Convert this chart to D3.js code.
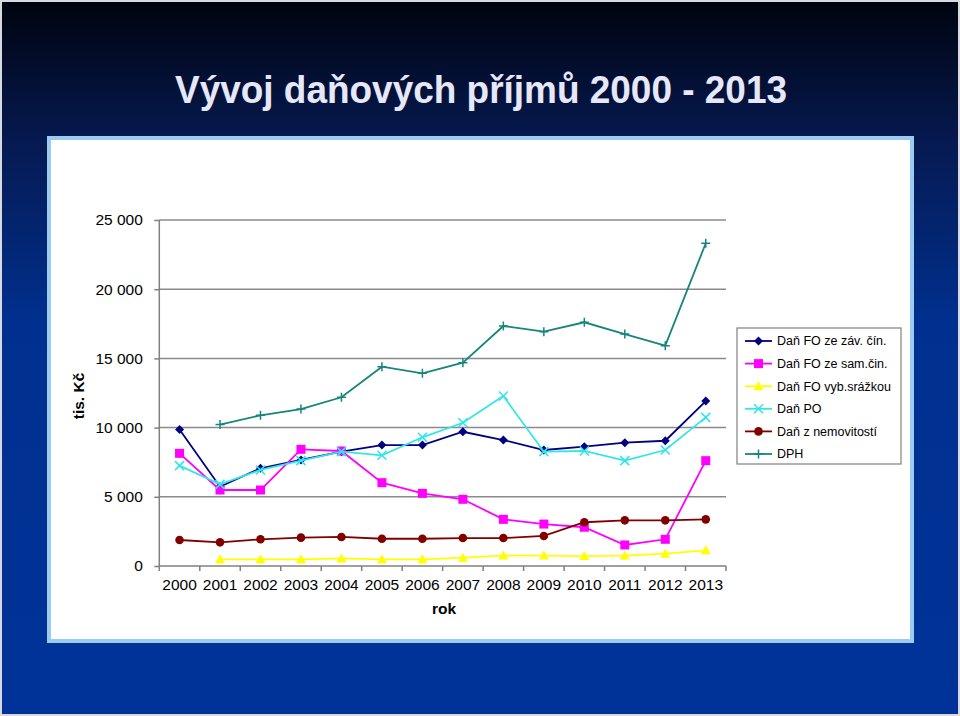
<!DOCTYPE html>
<html><head><meta charset="utf-8">
<script src="https://cdn.jsdelivr.net/npm/d3@7"></script>
<style>html,body{margin:0;padding:0;background:#000}svg{display:block}</style>
</head><body>
<script>
const years = ["2000","2001","2002","2003","2004","2005","2006","2007","2008","2009","2010","2011","2012","2013"];
const seriesNames = ["Daň FO ze záv. čín.","Daň FO ze sam.čin.","Daň FO vyb.srážkou","Daň PO","Daň z nemovitostí","DPH"];
const foZav   = [9870,5730,7060,7660,8260,8740,8740,9700,9100,8380,8620,8910,9050,11920];
const foSam   = [8140,5490,5490,8430,8310,6020,5250,4820,3370,3030,2800,1520,1930,7610];
const foSraz  = [null,480,480,480,550,480,480,600,750,750,720,750,890,1130];
const po      = [7250,5900,6940,7610,8260,8000,9300,10350,12280,8260,8310,7610,8380,10740];
const nemov   = [1880,1710,1930,2050,2100,1970,1970,2020,2020,2170,3160,3300,3300,3370];
const dph     = [null,10220,10890,11340,12190,14400,13920,14690,17340,16930,17610,16760,15920,23320];
const yTicks  = [0,5000,10000,15000,20000,25000];
const yTickLabels = ["0","5 000","10 000","15 000","20 000","25 000"];
const title = "Vývoj daňových příjmů 2000 - 2013";
const yTitle = "tis. Kč";
const xTitle = "rok";

const W=960,H=716;
const svg=d3.select("body").append("svg").attr("width",W).attr("height",H);
const defs=svg.append("defs");
const g=defs.append("linearGradient").attr("id","bg").attr("x1",0).attr("y1",0).attr("x2",0).attr("y2",1);
g.append("stop").attr("offset","0").attr("stop-color","#00040f");
g.append("stop").attr("offset","0.2").attr("stop-color","#061a52");
g.append("stop").attr("offset","0.45").attr("stop-color","#00308f");
g.append("stop").attr("offset","1").attr("stop-color","#003399");
svg.append("rect").attr("width",W).attr("height",H).attr("fill","#d8d8e0");
svg.append("rect").attr("x",2).attr("y",2).attr("width",W-4).attr("height",H-4).attr("fill","url(#bg)");

svg.append("text").attr("x",481).attr("y",103).attr("text-anchor","middle")
  .attr("font-family","Liberation Sans, Arial, sans-serif").attr("font-weight","bold")
  .attr("font-size",38).attr("fill","#e6e8fa")
  .attr("textLength",612).attr("lengthAdjust","spacingAndGlyphs").text(title);

// panel
svg.append("rect").attr("x",47).attr("y",136).attr("width",867).attr("height",507).attr("fill","#9ccbf2");
svg.append("rect").attr("x",51).attr("y",140).attr("width",859).attr("height",499).attr("fill","#ffffff");

const x=d3.scaleBand().domain(years).range([159.3,726]);
const y=d3.scaleLinear().domain([0,25000]).range([566,220]);
const font="Liberation Sans, Arial, sans-serif";

// gridlines
svg.append("g").selectAll("line").data(yTicks.filter(d=>d>0)).join("line")
  .attr("x1",159.3).attr("x2",726).attr("y1",d=>y(d)).attr("y2",d=>y(d))
  .attr("stroke","#8a8a8a").attr("stroke-width",1.5);

const yAxis=d3.axisLeft(y).tickValues(yTicks).tickFormat((d,i)=>yTickLabels[i]).tickSize(5).tickPadding(11.5);
const ya=svg.append("g").attr("transform","translate(159.3,0)").call(yAxis);
ya.select(".domain").attr("stroke","#808080").attr("stroke-width",1.5).attr("d","M-0,220V566");
ya.selectAll(".tick line").attr("stroke","#808080").attr("stroke-width",1.5);
ya.selectAll("text").attr("font-family",font).attr("font-size",15.5).attr("fill","#000");

const xAxis=d3.axisBottom(x).tickSize(0).tickPadding(10);
const xa=svg.append("g").attr("transform","translate(0,566)").call(xAxis);
xa.select(".domain").attr("stroke","#808080").attr("stroke-width",1.5).attr("d","M159.3,0H726");
xa.selectAll("text").attr("font-family",font).attr("font-size",15.5).attr("fill","#000").attr("dy","0.9em");
// category boundary ticks
const bounds=years.map(d=>x(d)).concat([726]);
svg.append("g").selectAll("line").data(bounds).join("line")
  .attr("x1",d=>d).attr("x2",d=>d).attr("y1",566).attr("y2",571)
  .attr("stroke","#808080").attr("stroke-width",1.5);

svg.append("text").attr("x",444).attr("y",614).attr("text-anchor","middle")
  .attr("font-family",font).attr("font-weight","bold").attr("font-size",15.5).text(xTitle);
svg.append("text").attr("transform","translate(84,396) rotate(-90)").attr("text-anchor","middle")
  .attr("font-family",font).attr("font-weight","bold").attr("font-size",15.5).text(yTitle);

const cx=d=>x(d)+x.bandwidth()/2;
const series=[
 {name:seriesNames[0],vals:foZav,color:"#000080",marker:"diamond"},
 {name:seriesNames[1],vals:foSam,color:"#ff00ff",marker:"square"},
 {name:seriesNames[2],vals:foSraz,color:"#ffff00",marker:"triangle"},
 {name:seriesNames[3],vals:po,color:"#33e6e6",marker:"x"},
 {name:seriesNames[4],vals:nemov,color:"#800000",marker:"circle"},
 {name:seriesNames[5],vals:dph,color:"#16857d",marker:"plus"}
];
function drawMarker(sel,type,color){
  if(type==="diamond") sel.append("path").attr("d","M0,-4.5L4.5,0L0,4.5L-4.5,0Z").attr("fill",color);
  else if(type==="square") sel.append("rect").attr("x",-4.5).attr("y",-4.5).attr("width",9).attr("height",9).attr("fill",color);
  else if(type==="triangle") sel.append("path").attr("d","M0,-5L5,4L-5,4Z").attr("fill",color);
  else if(type==="circle") sel.append("circle").attr("r",4.3).attr("fill",color);
  else if(type==="x") sel.append("path").attr("d","M-4.5,-4.5L4.5,4.5M-4.5,4.5L4.5,-4.5").attr("stroke",color).attr("stroke-width",1.6).attr("fill","none");
  else if(type==="plus") sel.append("path").attr("d","M-4.5,0H4.5M0,-4.5V4.5").attr("stroke",color).attr("stroke-width",1.5).attr("fill","none");
}
const line=d3.line().defined(d=>d.v!==null).x(d=>cx(d.year)).y(d=>y(d.v));
series.forEach(s=>{
  const pts=years.map((yr,i)=>({year:yr,v:s.vals[i]}));
  svg.append("path").datum(pts).attr("d",line).attr("fill","none").attr("stroke",s.color).attr("stroke-width",1.8);
  pts.filter(p=>p.v!==null).forEach(p=>{
    const m=svg.append("g").attr("transform",`translate(${cx(p.year)},${y(p.v)})`);
    drawMarker(m,s.marker,s.color);
  });
});

// legend
const lg=svg.append("g");
lg.append("rect").attr("x",737).attr("y",328).attr("width",164).attr("height",136)
  .attr("fill","#fff").attr("stroke","#808080").attr("stroke-width",1.2);
series.forEach((s,i)=>{
  const yy=341+i*22.6;
  lg.append("line").attr("x1",745).attr("x2",772).attr("y1",yy).attr("y2",yy).attr("stroke",s.color).attr("stroke-width",1.8);
  const m=lg.append("g").attr("transform",`translate(758.5,${yy})`);
  drawMarker(m,s.marker,s.color);
  lg.append("text").attr("x",777).attr("y",yy).attr("dy","0.35em").attr("font-family",font)
    .attr("font-size",12.5).attr("fill","#000").text(s.name);
});
</script>
</body></html>
